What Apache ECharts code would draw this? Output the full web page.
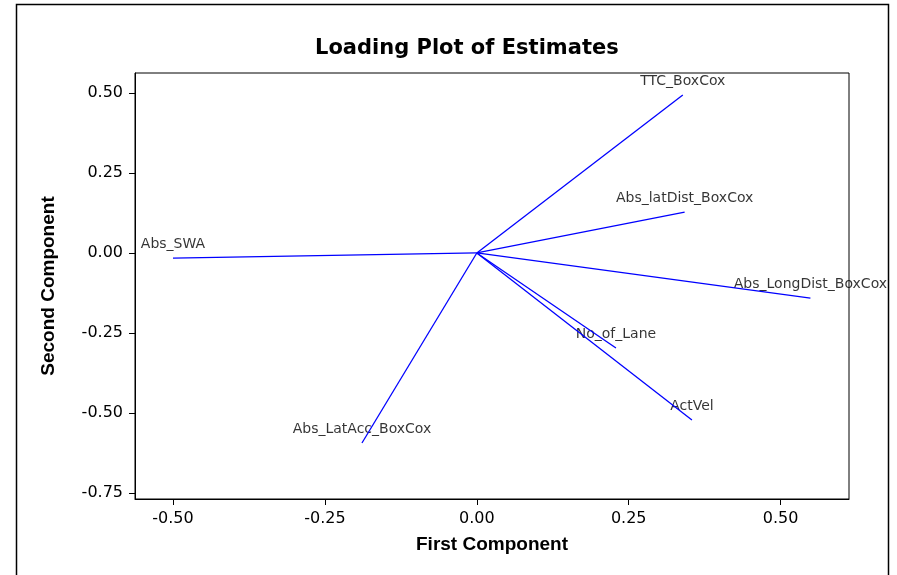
<!DOCTYPE html>
<html>
<head>
<meta charset="utf-8">
<script src="https://cdn.jsdelivr.net/npm/echarts@6/dist/echarts.min.js"></script>
<style>
html,body{margin:0;padding:0;background:#fff;}
#chart{width:897px;height:575px;}
</style>
</head>
<body>
<div id="chart"></div>
<script>
// Variable names and their loadings (first, second component)
const variables = ['TTC_BoxCox', 'Abs_latDist_BoxCox', 'Abs_LongDist_BoxCox', 'No_of_Lane', 'ActVel', 'Abs_LatAcc_BoxCox', 'Abs_SWA'];
const firstComp = [0.339, 0.342, 0.549, 0.229, 0.354, -0.189, -0.500];
const secondComp = [0.494, 0.128, -0.141, -0.297, -0.522, -0.594, -0.016];
const xTicks = [-0.50, -0.25, 0.00, 0.25, 0.50];
const yTicks = [-0.75, -0.50, -0.25, 0.00, 0.25, 0.50];

const chart = echarts.init(document.getElementById('chart'));

const lineSeries = variables.map((name, i) => ({
  type: 'line',
  name: name,
  data: [[0, 0], [firstComp[i], secondComp[i]]],
  showSymbol: false,
  symbol: 'none',
  silent: true,
  animation: false,
  lineStyle: { color: '#0000ff', width: 1.3 }
}));

const labelSeries = {
  type: 'scatter',
  data: variables.map((name, i) => ({ name: name, value: [firstComp[i], secondComp[i]] })),
  symbolSize: 0,
  silent: true,
  animation: false,
  label: {
    show: true,
    position: 'top',
    distance: 7,
    formatter: p => p.name,
    color: '#000',
    fontFamily: 'DejaVu Sans',
    fontSize: 14
  }
};

const axisCommon = {
  type: 'value',
  axisLine: { show: true, onZero: false, lineStyle: { color: '#000', width: 1 } },
  splitLine: { show: false },
  nameLocation: 'middle',
  nameTextStyle: { fontFamily: 'Liberation Sans', fontWeight: 'bold', fontSize: 19, color: '#000' }
};

chart.setOption({
  animation: false,
  backgroundColor: '#fff',
  title: {
    text: 'Loading Plot of Estimates',
    left: 310,
    top: 33,
    textStyle: { fontFamily: 'DejaVu Sans', fontWeight: 'bold', fontSize: 21, color: '#000' }
  },
  graphic: [{
    type: 'rect',
    shape: { x: 16.5, y: 4.5, width: 872, height: 620 },
    style: { fill: 'none', stroke: '#000', lineWidth: 1.5 },
    silent: true
  }],
  grid: {
    left: 135, top: 73, right: 48, bottom: 76,
    show: true, borderColor: '#000', borderWidth: 1
  },
  xAxis: Object.assign({}, axisCommon, {
    min: -0.5625, max: 0.6125,
    name: 'First Component',
    nameGap: 36,
    axisTick: { show: true, length: 6, lineStyle: { color: '#000' }, customValues: xTicks },
    axisLabel: {
      customValues: xTicks, margin: 12,
      formatter: v => v.toFixed(2),
      fontFamily: 'DejaVu Sans', fontSize: 16, color: '#000'
    }
  }),
  yAxis: Object.assign({}, axisCommon, {
    min: -0.769, max: 0.5625,
    name: 'Second Component',
    nameGap: 77,
    axisTick: { show: true, length: 6, lineStyle: { color: '#000' }, customValues: yTicks },
    axisLabel: {
      customValues: yTicks, margin: 12,
      formatter: v => v.toFixed(2),
      fontFamily: 'DejaVu Sans', fontSize: 16, color: '#000'
    }
  }),
  series: lineSeries.concat([labelSeries])
});
</script>
</body>
</html>
